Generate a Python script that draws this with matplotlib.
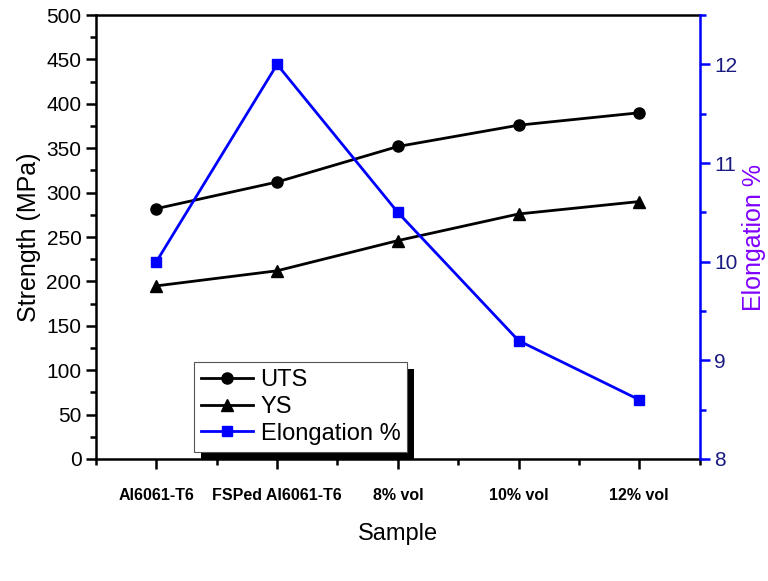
import numpy as np
import matplotlib
matplotlib.use('Agg')
import matplotlib.pyplot as plt
from matplotlib.ticker import MultipleLocator
from matplotlib.patches import Rectangle

plt.rcParams['font.family'] = ['Liberation Sans', 'DejaVu Sans']

# data
samples = ['Al6061-T6', 'FSPed Al6061-T6', '8% vol', '10% vol', '12% vol']
uts = [282, 312, 352, 376, 390]
ys = [195, 212, 246, 276, 290]
elongation = [10.0, 12.0, 10.5, 9.2, 8.6]

x = np.arange(len(samples))

fig = plt.figure(figsize=(7.68, 5.81), dpi=100)
ax = fig.add_axes([0.125, 0.21, 0.786, 0.764])
ax2 = ax.twinx()

l1, = ax.plot(x, uts, '-o', color='black', lw=2, ms=8, label='UTS')
l2, = ax.plot(x, ys, '-^', color='black', lw=2, ms=9, label='YS')
l3, = ax2.plot(x, elongation, '-s', color='#0000ff', lw=2, ms=7, label='Elongation %')

ax.set_xlim(-0.5, 4.5)
ax.set_ylim(0, 500)
ax2.set_ylim(8, 12.5)

ax.set_xticks(x)
ax.set_xticklabels(samples, fontsize=11.5, fontweight='bold')
ax.xaxis.set_minor_locator(MultipleLocator(0.5))
ax.yaxis.set_major_locator(MultipleLocator(50))
ax.yaxis.set_minor_locator(MultipleLocator(25))
ax2.yaxis.set_major_locator(MultipleLocator(1))
ax2.yaxis.set_minor_locator(MultipleLocator(0.5))

ax.tick_params(axis='both', which='major', direction='out', length=7, width=1.8, labelsize=15)
ax.tick_params(axis='both', which='minor', direction='out', length=4, width=1.8)
ax.tick_params(axis='x', which='major', labelsize=11.5, pad=14)
ax2.tick_params(axis='y', which='major', direction='out', length=7, width=1.8,
                labelsize=15, colors='#0000ff', labelcolor='#1a1a80')
ax2.tick_params(axis='y', which='minor', direction='out', length=4, width=1.8, colors='#0000ff')

for s in ['left', 'bottom', 'top']:
    ax.spines[s].set_linewidth(1.8)
ax2.spines['right'].set_color('#0000ff')
ax2.spines['right'].set_linewidth(1.8)
ax.spines['right'].set_visible(False)
for s in ['left', 'bottom', 'top']:
    ax2.spines[s].set_visible(False)

ax.set_xlabel('Sample', fontsize=17, labelpad=14)
ax.set_ylabel('Strength (MPa)', fontsize=18, labelpad=4)
ax2.set_ylabel('Elongation %', fontsize=18, color='#8000ff', labelpad=3)

leg = ax2.legend(handles=[l1, l2, l3], loc='upper left', bbox_to_anchor=(0.163, 0.218),
                 borderaxespad=0, fontsize=17, frameon=True, fancybox=False,
                 edgecolor='#555555', borderpad=0.3, labelspacing=0.2,
                 handlelength=2.2, handletextpad=0.3)
leg.get_frame().set_linewidth(0.8)
leg.get_frame().set_facecolor('white')
leg.get_frame().set_alpha(1)
leg.set_zorder(10)

# solid black drop shadow behind the legend box
fig.canvas.draw()
bb = leg.get_window_extent().transformed(fig.transFigure.inverted())
off_x, off_y = 7 / 768, 7 / 581
ax2.add_patch(Rectangle((bb.x0 + off_x, bb.y0 - off_y), bb.width, bb.height,
                        transform=fig.transFigure, facecolor='black',
                        edgecolor='none', zorder=9, clip_on=False))

fig.savefig('out.png', dpi=100)
